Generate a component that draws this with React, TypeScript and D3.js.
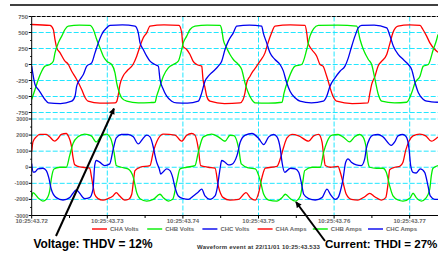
import React from 'react';
import * as d3 from 'd3';

type Pt = [number, number];

// time is ms after 10:25:43.72
const chaVolts: Pt[] = [[0,625],[2.42,610],[2.86,547],[3.08,390],[3.31,260],[3.74,185],[4.4,52],[4.8,10],[5.29,-105],[5.95,-234],[6.61,-390],[7.05,-516],[7.45,-573],[9.03,-605],[11.02,-600],[11.24,-580],[11.42,-495],[11.68,-312],[12.08,-183],[12.57,-105],[13.4,0],[13.89,130],[14.33,286],[14.76,417],[15.21,495],[15.65,600],[17.5,620],[19.48,610],[19.84,495],[20.01,286],[20.5,234],[20.94,156],[21.34,52],[21.83,0],[22.49,-26],[22.66,-234],[22.92,-360],[23.15,-495],[23.58,-573],[25.5,-610],[27.55,-600],[27.95,-550],[28.21,-443],[28.44,-286],[28.88,-183],[29.27,-105],[29.76,-26],[30.2,52],[30.86,182],[31.26,338],[31.75,500],[32.18,600],[34.2,620],[36.15,610],[36.38,495],[36.55,338],[37.04,234],[37.7,130],[38.14,0],[38.53,-26],[39.02,-183],[39.85,-495],[40.34,-573],[42.4,-610],[44.48,-600],[44.74,-443],[44.97,-312],[45.41,-183],[45.81,-26],[46.3,52],[46.96,156],[47.4,338],[47.79,500],[48.45,600],[50,620],[51.36,610],[51.75,547],[52.24,443],[52.67,338],[53.33,234],[53.74,190]];
const chbVolts: Pt[] = [[0,-547],[0.44,-390],[0.87,-234],[1.32,-105],[1.76,-26],[2.42,0],[2.86,52],[3.08,182],[3.52,338],[3.97,443],[4.4,547],[4.84,600],[6.3,615],[7.71,610],[8.15,547],[8.6,390],[9.03,260],[9.47,130],[9.92,52],[10.58,0],[11.02,-130],[11.24,-286],[11.46,-390],[11.9,-520],[12.57,-573],[14.1,-600],[15.65,-595],[16.31,-590],[16.53,-495],[16.97,-339],[17.41,-183],[18.07,-52],[18.73,0],[19.39,52],[19.84,234],[20.05,338],[20.5,443],[20.94,547],[21.6,600],[23.2,615],[24.91,610],[25.13,547],[25.34,390],[25.79,260],[26.23,156],[26.67,78],[27.33,0],[27.78,-78],[28.21,-286],[28.65,-443],[29.1,-547],[29.54,-600],[31.3,-605],[33.11,-590],[33.37,-450],[33.94,-234],[34.83,-26],[35.71,0],[36.38,234],[36.81,443],[37.3,560],[37.91,610],[40.5,615],[42.99,600],[43.43,390],[43.87,234],[44.53,78],[44.97,0],[45.41,-234],[45.85,-469],[46.3,-573],[48,-600],[49.6,-590],[50.26,-443],[50.71,-286],[51.36,-183],[51.8,-26],[52.46,0],[53.12,234],[53.57,390],[53.74,470]];
const chcVolts: Pt[] = [[0,-26],[0.21,-183],[0.44,-312],[0.87,-390],[1.32,-469],[1.76,-547],[2.2,-600],[3.8,-610],[5.29,-573],[5.73,-495],[5.95,-339],[6.39,-234],[6.83,-156],[7.28,-26],[7.94,26],[8.37,182],[8.81,338],[9.26,469],[9.92,573],[10.36,610],[12,620],[13.66,600],[14.1,495],[14.33,338],[14.76,234],[15.21,130],[15.65,52],[16.31,0],[16.75,-26],[16.97,-234],[17.41,-390],[17.86,-495],[18.52,-573],[19.18,-600],[20.6,-605],[22.04,-573],[22.49,-443],[22.92,-260],[23.36,-183],[24.02,-105],[24.68,-26],[25.13,52],[25.57,234],[26.01,365],[26.67,495],[27.12,600],[28.8,615],[30.42,600],[30.63,495],[31.08,338],[31.52,182],[32.18,78],[32.85,0],[33.28,-100],[33.73,-286],[34.17,-417],[34.83,-520],[35.49,-573],[37,-600],[38.57,-573],[39.02,-495],[39.46,-339],[40.12,-208],[40.78,-105],[41.44,-26],[41.88,104],[42.33,286],[42.76,443],[43.2,573],[43.65,610],[45.3,615],[46.96,573],[47.4,443],[47.84,286],[48.5,156],[49.15,78],[49.82,0],[50.26,-78],[50.71,-286],[51.15,-443],[51.81,-547],[52.25,-573],[53.74,-590]];

const chaAmps: Pt[] = [[0,960],[0.17,1575],[0.61,1890],[1.06,2040],[1.93,2040],[2.38,1890],[3.04,1620],[3.48,1785],[3.92,2040],[4.58,2100],[4.89,1890],[5.24,1365],[5.46,630],[5.69,150],[6.12,60],[6.79,0],[7.67,-50],[7.88,-525],[8.11,-1155],[8.33,-1680],[8.77,-1950],[9.43,-2040],[10.09,-1950],[10.75,-1785],[11.19,-1575],[11.64,-1785],[12.3,-2040],[12.83,-1990],[13.23,-1680],[13.44,-945],[13.66,-210],[14.33,0],[15.65,105],[16.08,945],[16.75,1785],[17.41,2060],[18.96,1995],[19.84,1620],[20.5,1995],[21.16,2100],[21.6,1995],[22.04,1155],[22.35,105],[23.36,0],[24.25,-60],[24.68,-1155],[25.34,-1890],[26.23,-2040],[27.38,-1995],[28.35,-1575],[28.92,-1890],[29.58,-2040],[30.03,-1575],[30.46,-630],[30.9,-60],[32.45,60],[32.88,525],[33.33,1260],[33.77,1830],[34.43,2040],[35.32,1950],[36.64,1620],[37.3,1950],[37.96,2040],[38.4,1575],[38.62,735],[38.84,105],[39.5,0],[40.52,60],[40.82,-315],[41.18,-945],[41.61,-1680],[42.28,-1995],[43.16,-2040],[44.05,-1830],[44.71,-1620],[45.37,-1830],[46.24,-2040],[46.83,-1890],[47.13,-1050],[47.35,-150],[48.02,0],[48.68,60],[49.11,315],[49.47,1050],[49.91,1620],[50.44,1950],[51.32,2060],[52.12,1950],[52.86,1620],[53.74,1890]];
const chbAmps: Pt[] = [[0,-1856],[0.17,-1575],[0.83,-1890],[1.49,-2100],[1.93,-1995],[2.38,-1470],[2.59,-735],[2.95,-105],[3.7,0],[4.58,0],[5.03,735],[5.46,1470],[6.12,1890],[7.01,2060],[7.88,1950],[8.54,1575],[9.21,1950],[9.87,2060],[10.45,1785],[10.89,945],[11.19,105],[11.85,0],[12.74,-105],[13.44,-630],[13.89,-1575],[14.33,-1953],[15.21,-2100],[16.08,-1995],[16.97,-1680],[17.41,-1890],[18.07,-2100],[18.65,-1995],[19.18,-945],[19.62,-105],[20.5,0],[21.6,105],[22.04,945],[22.7,1890],[23.81,2060],[24.68,1890],[25.57,1617],[26.23,1990],[26.75,1960],[27.38,1155],[27.72,210],[28.7,-42],[29.58,-105],[30.24,-840],[30.69,-1680],[31.35,-2037],[32.45,-2100],[33.11,-1890],[33.55,-1680],[34.21,-1953],[34.87,-2100],[35.53,-1785],[35.85,-945],[36.11,-210],[37.08,0],[38.17,0],[38.62,945],[39.06,1575],[39.72,1995],[40.52,2037],[41.18,1890],[42.06,1575],[42.72,1890],[43.39,2037],[43.82,1890],[44.26,1155],[44.48,315],[44.71,0],[45.58,-63],[46.47,-63],[46.9,-315],[47.35,-1155],[47.79,-1785],[48.45,-2037],[49.11,-2100],[50.08,-1890],[50.44,-1617],[50.87,-1890],[51.53,-2100],[52.2,-1890],[52.65,-1365],[52.86,-525],[53.08,-63],[53.74,105]];
const chcAmps: Pt[] = [[0,230],[0.17,-300],[0.44,-294],[0.83,-105],[1.49,-63],[1.93,-210],[2.25,-630],[2.59,-1365],[3.25,-1890],[4.14,-2037],[5.03,-1890],[5.46,-1617],[5.9,-1407],[6.35,-1617],[7.01,-1953],[7.67,-1890],[8.11,-1365],[8.33,105],[8.54,420],[8.99,315],[9.66,105],[10.32,210],[10.75,1050],[11.19,1827],[11.85,2037],[12.74,2037],[13.44,1890],[14.1,1450],[14.55,1680],[15.21,1995],[15.65,1890],[16.08,1260],[16.31,735],[16.53,315],[16.88,-105],[17.06,-420],[17.41,-273],[17.86,-105],[18.29,-210],[18.65,-630],[18.96,-1260],[19.39,-1785],[20.05,-1953],[20.71,-1995],[21.38,-1785],[22.04,-1533],[22.49,-1365],[22.92,-1785],[23.59,-1995],[24.25,-1785],[24.55,-1260],[24.91,-105],[25.13,420],[25.57,315],[26.01,147],[26.46,180],[27.16,735],[27.59,1575],[28.25,1995],[29.14,2100],[30.03,1785],[30.69,1407],[31.35,1890],[32.01,2037],[32.45,1890],[32.88,1155],[33.11,315],[33.47,-315],[34.21,-63],[34.87,-105],[35.32,-315],[35.66,-945],[35.98,-1680],[36.64,-1953],[37.51,-2037],[38.4,-1890],[39.06,-1365],[39.5,-1680],[40.16,-1995],[40.52,-1890],[40.95,-1260],[41.18,-735],[41.53,315],[41.84,525],[42.28,315],[42.94,147],[43.6,105],[44.05,525],[44.26,1155],[44.71,1785],[45.15,1995],[45.81,2037],[46.47,1890],[47.57,1365],[48.02,1575],[48.45,1953],[49.11,2037],[49.55,1890],[49.91,1155],[50.13,105],[50.44,-315],[50.87,-357],[51.4,-105],[51.98,-315],[52.42,-1155],[52.72,-1785],[53.31,-1995],[53.74,-1995]];

const timeTicks = [0, 10, 20, 30, 40, 50];
const timeLabels = ['10:25:43.72', '10:25:43.73', '10:25:43.74', '10:25:43.75', '10:25:43.76', '10:25:43.77'];
const voltTicks = [750, 500, 250, 0, -250, -500, -750];
const ampTicks = [3000, 2000, 1000, 0, -1000, -2000, -3000];
const seriesNames = ['CHA Volts', 'CHB Volts', 'CHC Volts', 'CHA Amps', 'CHB Amps', 'CHC Amps'];
const phaseColors = ['#ff0000', '#00ee00', '#0000ee'];

const W = 438;
const H = 254;
const plotL = 31.7;
const plotR = 438;
const gridColor = '#22e6ff';
const small = {fontFamily: 'Liberation Sans, Arial, sans-serif', fontSize: 6, fontWeight: 700, fill: '#666'};

export default function App() {
  const x = d3.scaleLinear().domain([0, 50]).range([plotL, plotL + 378]);
  const yV = d3.scaleLinear().domain([-750, 750]).range([112.5, 16.5]);
  const yA = d3.scaleLinear().domain([-3000, 3000]).range([215.5, 119]);
  const lineV = d3.line<Pt>().x((d) => x(d[0])).y((d) => yV(d[1])).curve(d3.curveMonotoneX);
  const lineA = d3.line<Pt>().x((d) => x(d[0])).y((d) => yA(d[1])).curve(d3.curveMonotoneX);
  const top = yV(750);
  const bottom = yA(-3000);

  const volts = [chaVolts, chbVolts, chcVolts];
  const amps = [chaAmps, chbAmps, chcAmps];
  const minorV = d3.range(-625, 750, 250);
  const minorA = d3.range(-2500, 3000, 1000);
  const minorT = d3.range(5, 55, 10);

  return (
    <svg width={W} height={H} style={{position: 'absolute', left: 0, top: 0, background: '#fff'}}>
      <defs>
        <clipPath id="plot">
          <rect x={plotL} y={top - 2} width={plotR - plotL} height={bottom - top + 4} />
        </clipPath>
        <marker id="arrow" viewBox="0 0 10 10" refX="9" refY="5" markerWidth="3.6" markerHeight="3" orient="auto">
          <path d="M0,0 L10,5 L0,10 z" fill="#000" />
        </marker>
      </defs>

      <line x1={10} x2={W} y1={5} y2={5} stroke="#000" strokeWidth={1.3} />

      {/* grid */}
      {voltTicks.filter((v) => v !== 750).map((v) => (
        <line key={'gv' + v} x1={plotL} x2={plotR} y1={yV(v)} y2={yV(v)} stroke={gridColor} strokeDasharray="5,2" />
      ))}
      {ampTicks.filter((v) => v !== -3000).map((v) => (
        <line key={'ga' + v} x1={plotL} x2={plotR} y1={yA(v)} y2={yA(v)} stroke={gridColor} strokeDasharray="5,2" />
      ))}
      {timeTicks.slice(1).map((t) => (
        <line key={'gt' + t} x1={x(t)} x2={x(t)} y1={top} y2={bottom} stroke={gridColor} strokeDasharray="5,2" />
      ))}
      <line x1={plotL} x2={plotR} y1={top} y2={top} stroke="#000" strokeDasharray="4,1" />

      {/* traces */}
      <g clipPath="url(#plot)" fill="none" strokeWidth={1.3} strokeLinejoin="round">
        {volts.map((s, i) => <path key={'v' + i} d={lineV(s) || ''} stroke={phaseColors[i]} />)}
        {amps.map((s, i) => <path key={'a' + i} d={lineA(s) || ''} stroke={phaseColors[i]} />)}
      </g>

      {/* axes */}
      <line x1={plotL} x2={plotL} y1={top} y2={bottom} stroke="#000" />
      <line x1={plotL} x2={plotR} y1={bottom} y2={bottom} stroke="#000" strokeWidth={1.2} />
      {voltTicks.map((v) => (
        <g key={'tv' + v}>
          <line x1={plotL - 3} x2={plotL} y1={yV(v)} y2={yV(v)} stroke="#000" />
          <text x={plotL - 3.5} y={yV(v) + 2} textAnchor="end" {...small}>{v}</text>
        </g>
      ))}
      {ampTicks.map((v) => (
        <g key={'ta' + v}>
          <line x1={plotL - 3} x2={plotL} y1={yA(v)} y2={yA(v)} stroke="#000" />
          <text x={plotL - 3.5} y={yA(v) + 2} textAnchor="end" {...small} fontSize={5.4}>{v}</text>
        </g>
      ))}
      {minorV.map((v) => <line key={'mv' + v} x1={plotL - 1.5} x2={plotL} y1={yV(v)} y2={yV(v)} stroke="#000" />)}
      {minorA.map((v) => <line key={'ma' + v} x1={plotL - 1.5} x2={plotL} y1={yA(v)} y2={yA(v)} stroke="#000" />)}
      {timeTicks.map((t, i) => (
        <g key={'tt' + t}>
          <line x1={x(t)} x2={x(t)} y1={bottom} y2={bottom + 3} stroke="#000" />
          <text x={x(t)} y={223.2} textAnchor="middle" {...small}>{timeLabels[i]}</text>
        </g>
      ))}
      {minorT.map((t) => <line key={'mt' + t} x1={x(t)} x2={x(t)} y1={bottom} y2={bottom + 2.5} stroke="#000" />)}

      {/* legend */}
      {seriesNames.map((name, i) => {
        const lx = 92 + i * 55.2;
        return (
          <g key={name}>
            <line x1={lx} x2={lx + 15} y1={229} y2={229} stroke={phaseColors[i % 3]} strokeWidth={1.4} />
            <text x={lx + 18} y={231.2} {...small}>{name}</text>
          </g>
        );
      })}

      <text x={197} y={248.6} {...small} fill="#333" letterSpacing={0.2}>Waveform event at 22/11/01 10:25:43.533</text>

      {/* annotations */}
      <line x1={56} y1={236} x2={114} y2={108.5} stroke="#000" strokeWidth={2} markerEnd="url(#arrow)" />
      <line x1={325} y1={241} x2={296} y2={202} stroke="#000" strokeWidth={2} markerEnd="url(#arrow)" />
      <text x={33.5} y={248.3} fontFamily="Liberation Sans, Arial, sans-serif" fontSize={11.9} fontWeight={700}>Voltage: THDV = 12%</text>
      <text x={325} y={248.3} fontFamily="Liberation Sans, Arial, sans-serif" fontSize={11.6} fontWeight={700}>Current: THDI = 27%</text>
    </svg>
  );
}
